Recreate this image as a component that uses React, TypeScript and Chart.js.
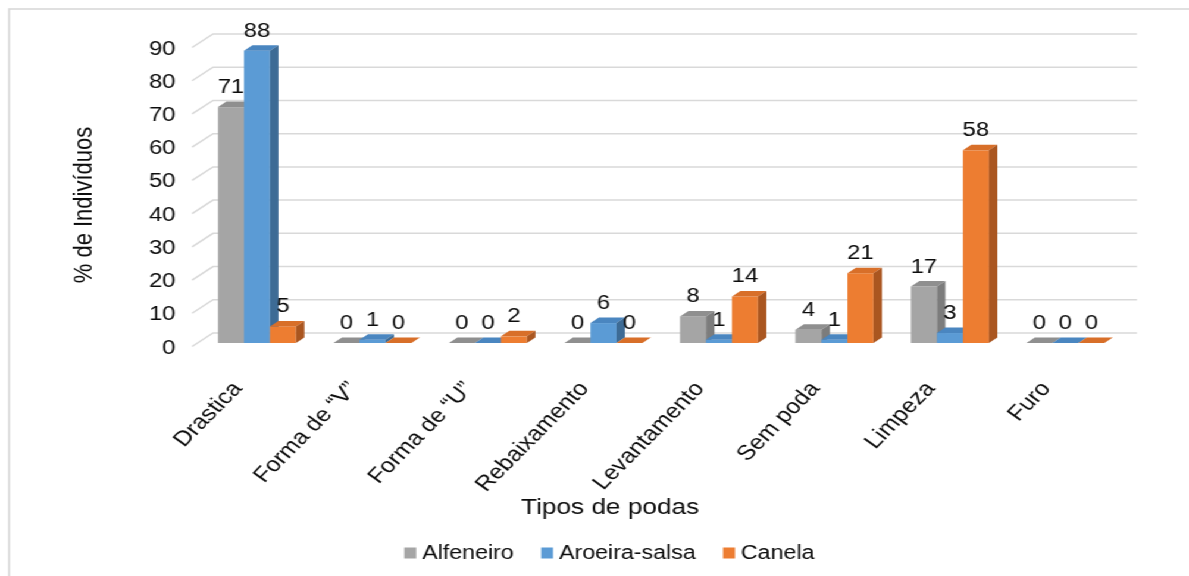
import { useEffect, useRef } from "react";
import { Chart, registerables } from "chart.js";

Chart.register(...registerables);

// ---- data ----
const categories = [
  "Drastica",
  "Forma de “V”",
  "Forma de “U”",
  "Rebaixamento",
  "Levantamento",
  "Sem poda",
  "Limpeza",
  "Furo",
];
const seriesNames = ["Alfeneiro", "Aroeira-salsa", "Canela"];
const alfeneiro = [71, 0, 0, 0, 8, 4, 17, 0];
const aroeiraSalsa = [88, 1, 0, 6, 1, 1, 3, 0];
const canela = [5, 0, 2, 0, 14, 21, 58, 0];
const yMin = 0;
const yMax = 90;
const yStep = 10;
const yTitle = "% de Indivíduos";
const xTitle = "Tipos de podas";

// ---- look ----
const FONT = "'Liberation Sans', Arial, Helvetica, sans-serif";
const TEXT = "#0d0d0d";
const GRID = "#d9d9d9";
const CANVAS_W = 999;
const CANVAS_H = 576;
const STRETCH = 1189 / CANVAS_W;

// front, top and side faces of each series' columns
const palette = [
  { front: "#a5a5a5", top: "#8f8f8f", side: "#7c7c7c" },
  { front: "#5b9bd5", top: "#4a86c0", side: "#3d6b95" },
  { front: "#ed7d31", top: "#d86f29", side: "#aa5620" },
];

// perspective offsets (pixels)
const DEPTH = { dx: 7.1, dy: -5.5 }; // column depth
const FRONT = { dx: -6, dy: 3.5 }; // front edge of the floor/wall
const BACK = { dx: 11.6, dy: -10 }; // back wall

const threeD = {
  id: "threeD",
  beforeDraw(chart: any) {
    const { ctx } = chart;
    ctx.save();
    ctx.fillStyle = "#ffffff";
    ctx.fillRect(0, 0, chart.width, chart.height);
    ctx.strokeStyle = GRID;
    ctx.lineWidth = 1.6;
    ctx.strokeRect(7.6, 9, chart.width + 40, chart.height + 40);
    ctx.restore();
  },
  beforeDatasetsDraw(chart: any) {
    const { ctx, chartArea } = chart;
    const yScale = chart.scales.y;
    ctx.save();
    // walls: gridlines bent along the side wall onto the back wall
    ctx.strokeStyle = GRID;
    ctx.lineWidth = 1.5;
    yScale.ticks.forEach((t: any) => {
      const py = yScale.getPixelForValue(t.value);
      ctx.beginPath();
      ctx.moveTo(chartArea.left + FRONT.dx, py + FRONT.dy);
      ctx.lineTo(chartArea.left + BACK.dx, py + BACK.dy);
      ctx.lineTo(chartArea.right + BACK.dx, py + BACK.dy);
      ctx.stroke();
    });
    // columns, drawn left to right so neighbours overlap correctly
    const metas = chart.data.datasets.map((_: any, i: number) => chart.getDatasetMeta(i));
    categories.forEach((_, i) => {
      metas.forEach((meta: any, d: number) => {
        const el = meta.data[i];
        if (!el) return;
        const { x, y, base, width } = el.getProps(["x", "y", "base", "width"], true);
        const l = x - width / 2;
        const r = x + width / 2;
        const c = palette[d];
        ctx.fillStyle = c.front;
        ctx.fillRect(l, y, width, base - y);
        ctx.fillStyle = c.top;
        ctx.beginPath();
        ctx.moveTo(l, y);
        ctx.lineTo(l + DEPTH.dx, y + DEPTH.dy);
        ctx.lineTo(r + DEPTH.dx, y + DEPTH.dy);
        ctx.lineTo(r, y);
        ctx.closePath();
        ctx.fill();
        ctx.fillStyle = c.side;
        ctx.beginPath();
        ctx.moveTo(r, y);
        ctx.lineTo(r + DEPTH.dx, y + DEPTH.dy);
        ctx.lineTo(r + DEPTH.dx, base + DEPTH.dy);
        ctx.lineTo(r, base);
        ctx.closePath();
        ctx.fill();
      });
    });
    ctx.restore();
    return false;
  },
  afterDraw(chart: any) {
    const { ctx } = chart;
    ctx.save();
    ctx.fillStyle = TEXT;
    // value labels
    ctx.font = `20px ${FONT}`;
    ctx.textAlign = "center";
    ctx.textBaseline = "alphabetic";
    chart.data.datasets.forEach((ds: any, d: number) => {
      const meta = chart.getDatasetMeta(d);
      meta.data.forEach((el: any, i: number) => {
        ctx.fillText(String(ds.data[i]), el.x, el.y - 14);
      });
    });
    // axis titles
    ctx.font = `22px ${FONT}`;
    ctx.textBaseline = "middle";
    ctx.fillText(xTitle, 512.6, 508);
    ctx.save();
    ctx.translate(71.4, 205);
    ctx.rotate(-Math.PI / 2);
    ctx.fillText(yTitle, 0, 0);
    ctx.restore();
    // legend
    ctx.font = `19.5px ${FONT}`;
    ctx.textAlign = "left";
    const box = 10;
    const gapText = 5;
    const gapItem = 23;
    const items = chart.data.datasets.map((ds: any, d: number) => ({
      label: ds.label,
      color: palette[d].front,
      w: ctx.measureText(ds.label).width,
    }));
    const total =
      items.reduce((s: number, it: any) => s + box + gapText + it.w, 0) +
      gapItem * (items.length - 1);
    let lx = 512 - total / 2;
    const ly = 553;
    items.forEach((it: any) => {
      ctx.fillStyle = it.color;
      ctx.fillRect(lx, ly - 5.5, box, 11);
      lx += box + gapText;
      ctx.fillStyle = TEXT;
      ctx.fillText(it.label, lx, ly + 1);
      lx += it.w + gapItem;
    });
    ctx.restore();
  },
};

export default function App() {
  const canvasRef = useRef<HTMLCanvasElement | null>(null);

  useEffect(() => {
    document.body.style.overflow = "hidden";
    const canvas = canvasRef.current;
    if (!canvas) return;
    const series = [alfeneiro, aroeiraSalsa, canela];
    const chart = new Chart(canvas, {
      type: "bar",
      data: {
        labels: categories,
        datasets: series.map((values, d) => ({
          label: seriesNames[d],
          data: values,
          backgroundColor: palette[d].front,
          categoryPercentage: 0.675,
          barPercentage: 1,
        })),
      },
      options: {
        animation: false,
        responsive: true,
        maintainAspectRatio: false,
        devicePixelRatio: 1,
        layout: { padding: { left: 0, right: 55.3, top: 44, bottom: 0 } },
        plugins: {
          legend: { display: false },
          tooltip: { enabled: false },
          title: { display: false },
        },
        scales: {
          x: {
            grid: { display: false },
            border: { display: false },
            ticks: {
              color: TEXT,
              font: { family: FONT, size: 21 },
              minRotation: 50,
              maxRotation: 50,
              autoSkip: false,
              padding: 26,
              labelOffset: -16,
            },
            afterFit: (scale: any) => {
              scale.height = 233;
            },
          },
          y: {
            min: yMin,
            max: yMax,
            grid: { display: false },
            border: { display: false },
            ticks: {
              stepSize: yStep,
              color: TEXT,
              font: { family: FONT, size: 20 },
              padding: 12,
              labelOffset: 5,
            },
            afterFit: (scale: any) => {
              scale.width = 167.4;
            },
          },
        },
      },
      plugins: [threeD],
    });
    return () => chart.destroy();
  }, []);

  return (
    <div
      style={{
        position: "absolute",
        left: 0,
        top: 0,
        width: CANVAS_W,
        height: CANVAS_H,
        transform: `scaleX(${STRETCH})`,
        transformOrigin: "0 0",
        background: "#fff",
      }}
    >
      <canvas ref={canvasRef} />
    </div>
  );
}
